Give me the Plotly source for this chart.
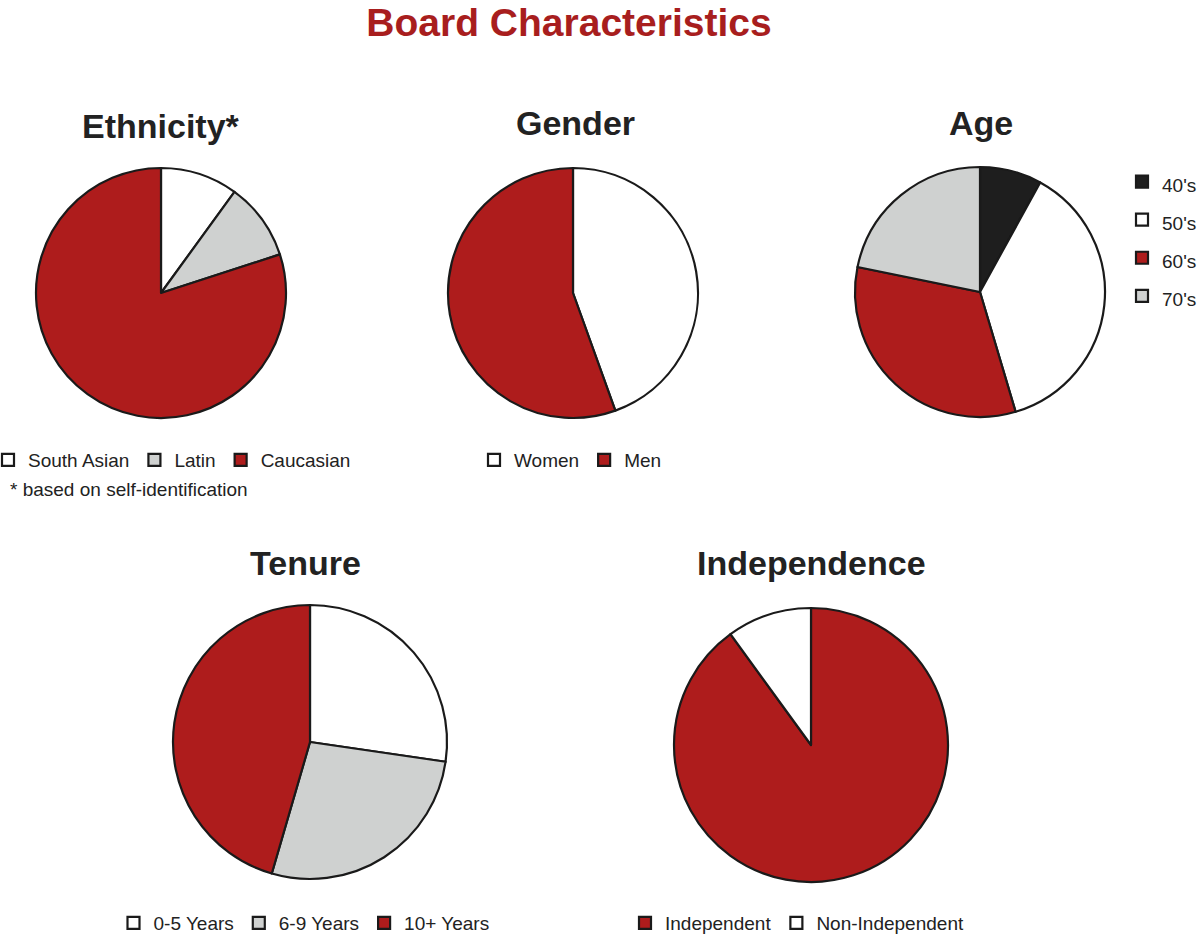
import plotly.graph_objects as go

W, H = 1198, 934

# ---- data ----
eth_labels = ["South Asian", "Latin", "Caucasian"]
eth_values = [10, 10, 80]

gen_labels = ["Women", "Men"]
gen_values = [44.5, 55.5]

age_labels = ["40's", "50's", "60's", "70's"]
age_values = [8.0, 37.4, 32.8, 21.8]

ten_labels = ["0-5 Years", "6-9 Years", "10+ Years"]
ten_values = [27.3, 27.2, 45.5]

ind_labels = ["Independent", "Non-Independent"]
ind_values = [90, 10]

# ---- styles ----
RED = "#AE1C1C"
GRAY = "#CFD1D0"
BLACK = "#1E1E1E"
WHITE = "#FFFFFF"
OUTLINE = "#1A1A1A"
TXT = "#222222"
FONT = "Liberation Sans, Arial, Helvetica, sans-serif"

eth_colors = [WHITE, GRAY, RED]
gen_colors = [WHITE, RED]
age_colors = [BLACK, WHITE, RED, GRAY]
ten_colors = [WHITE, GRAY, RED]
ind_colors = [RED, WHITE]


def dom(cx, cy, r):
    return dict(x=[(cx - r) / W, (cx + r) / W], y=[1 - (cy + r) / H, 1 - (cy - r) / H])


def pie(labels, values, colors, domain, legend):
    return go.Pie(
        labels=labels, values=values, sort=False, direction="clockwise", rotation=0,
        marker=dict(colors=colors, line=dict(color=OUTLINE, width=2.2)),
        textinfo="none", domain=domain, legend=legend, hoverinfo="label+percent",
    )


# the Age legend uses a larger line height (legend font) with 19px text for wider spacing
age_display = ['<span style="font-size:19px">%s</span>' % s for s in age_labels]

fig = go.Figure()
fig.add_trace(pie(eth_labels, eth_values, eth_colors, dom(161, 293, 125), "legend"))
fig.add_trace(pie(gen_labels, gen_values, gen_colors, dom(573, 293, 125), "legend2"))
fig.add_trace(pie(age_display, age_values, age_colors, dom(980, 292, 125), "legend3"))
fig.add_trace(pie(ten_labels, ten_values, ten_colors, dom(310, 742, 137), "legend4"))
fig.add_trace(pie(ind_labels, ind_values, ind_colors, dom(811, 745, 137), "legend5"))

lfont = dict(family=FONT, size=19, color=TXT)


def hleg(xpx, ypx, anchor="left"):
    return dict(orientation="h", x=xpx / W, y=1 - ypx / H, xanchor=anchor, yanchor="middle",
                font=lfont, bgcolor="rgba(0,0,0,0)", traceorder="normal", itemclick=False)


annotations = []
for text, x, y in [("Ethnicity*", 161, 126), ("Gender", 575, 123), ("Age", 981, 123),
                   ("Tenure", 305, 563), ("Independence", 811, 563)]:
    annotations.append(dict(text=text, x=x / W, y=1 - y / H, xref="paper", yref="paper",
                            xanchor="center", yanchor="middle", showarrow=False,
                            font=dict(family=FONT, size=34, color=TXT, weight=700)))
annotations.append(dict(text="* based on self-identification", x=8 / W, y=1 - 490 / H,
                        xref="paper", yref="paper", xanchor="left", yanchor="middle",
                        showarrow=False, font=lfont))

fig.update_layout(
    width=W, height=H, margin=dict(l=0, r=0, t=0, b=0, autoexpand=False),
    paper_bgcolor="white", plot_bgcolor="white",
    title=dict(text="Board Characteristics", x=569 / W, y=1 - 22.5 / H, xref="paper", yref="paper",
               xanchor="center", yanchor="middle",
               font=dict(family=FONT, size=39, color="#A81E1E", weight=700)),
    showlegend=True,
    legend=hleg(-12, 460),
    legend2=hleg(474, 460),
    legend3=dict(orientation="v", x=1122 / W, y=1 - 239 / H, xanchor="left", yanchor="middle",
                 font=dict(family=FONT, size=27, color=TXT), bgcolor="rgba(0,0,0,0)",
                 itemclick=False),
    legend4=hleg(304, 923, "center"),
    legend5=hleg(797, 923, "center"),
    annotations=annotations,
)

fig.write_html(
    "out.html",
    config={"displayModeBar": False},
    post_script="document.body.style.margin='0';document.body.style.overflow='hidden';",
)
